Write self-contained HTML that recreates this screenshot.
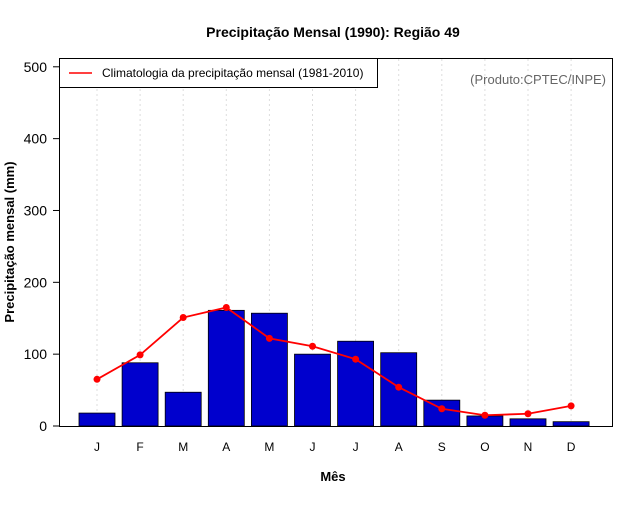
<!DOCTYPE html>
<html><head><meta charset="utf-8"><style>
body{margin:0;background:#fff}
svg text{font-family:"Liberation Sans",sans-serif}
</style></head><body>
<svg id="chart" width="640" height="500">
<rect width="640" height="500" fill="#fff"/>
<text x="333" y="37" text-anchor="middle" font-size="14" font-weight="bold">Precipitação Mensal (1990): Região 49</text>
<text x="333" y="481" text-anchor="middle" font-size="13" font-weight="bold">Mês</text>
<text transform="translate(14,242) rotate(-90)" text-anchor="middle" font-size="13" font-weight="bold">Precipitação mensal (mm)</text>
<g id="grid"></g><g id="bars"></g><g id="line"></g><g id="axes"></g>
<rect x="59.5" y="58.5" width="553" height="368" fill="none" stroke="#000"/>
<g>
<rect x="59.5" y="58.5" width="318" height="29" fill="#fff" stroke="#000"/>
<line x1="69" y1="73" x2="92" y2="73" stroke="red" stroke-width="1.5"/>
<text x="102" y="77" font-size="12">Climatologia da precipitação mensal (1981-2010)</text>
</g>
<text x="606" y="84" text-anchor="end" font-size="13" fill="#666">(Produto:CPTEC/INPE)</text>
</svg>
<script>
const months=["J","F","M","A","M","J","J","A","S","O","N","D"];
const observed=[18,88,47,161,157,100,118,102,36,14,10,6];
const climatology=[65,99,151,165,122,111,93,54,24,15,17,28];
const yTicks=[0,100,200,300,400,500];
const NS="http://www.w3.org/2000/svg";
const x=i=>97+i*43.1;
const y=v=>426-v*0.7184;
function mk(t,a,p){const e=document.createElementNS(NS,t);for(const k in a)e.setAttribute(k,a[k]);p.appendChild(e);return e;}
const g=document.getElementById('grid'),b=document.getElementById('bars'),l=document.getElementById('line'),ax=document.getElementById('axes');
months.forEach((m,i)=>{
 const gl=mk('line',{x1:x(i),x2:x(i),y1:59,y2:426,stroke:'#ddd','stroke-dasharray':'2,3'},g);
 
 
 const r=mk('rect',{x:x(i)-18,y:y(observed[i]),width:36,height:426-y(observed[i]),fill:'#0000cd',stroke:'#000','stroke-width':0.8},b);
 
 
 const t=mk('text',{x:x(i),y:451,'text-anchor':'middle','font-size':12},ax);t.textContent=m;
 
 
});
const pl=mk('polyline',{points:climatology.map((v,i)=>x(i)+','+y(v)).join(' '),fill:'none',stroke:'red','stroke-width':1.8},l);


climatology.forEach((v,i)=>{const c=mk('circle',{cx:x(i),cy:y(v),r:3.5,fill:'red'},l);
 
 });
yTicks.forEach(v=>{mk('line',{x1:53,x2:59,y1:y(v),y2:y(v),stroke:'#000'},ax);
 const t=mk('text',{x:47,y:y(v)+5,'text-anchor':'end','font-size':14},ax);t.textContent=v;
 
 });
</script>
</body></html>
